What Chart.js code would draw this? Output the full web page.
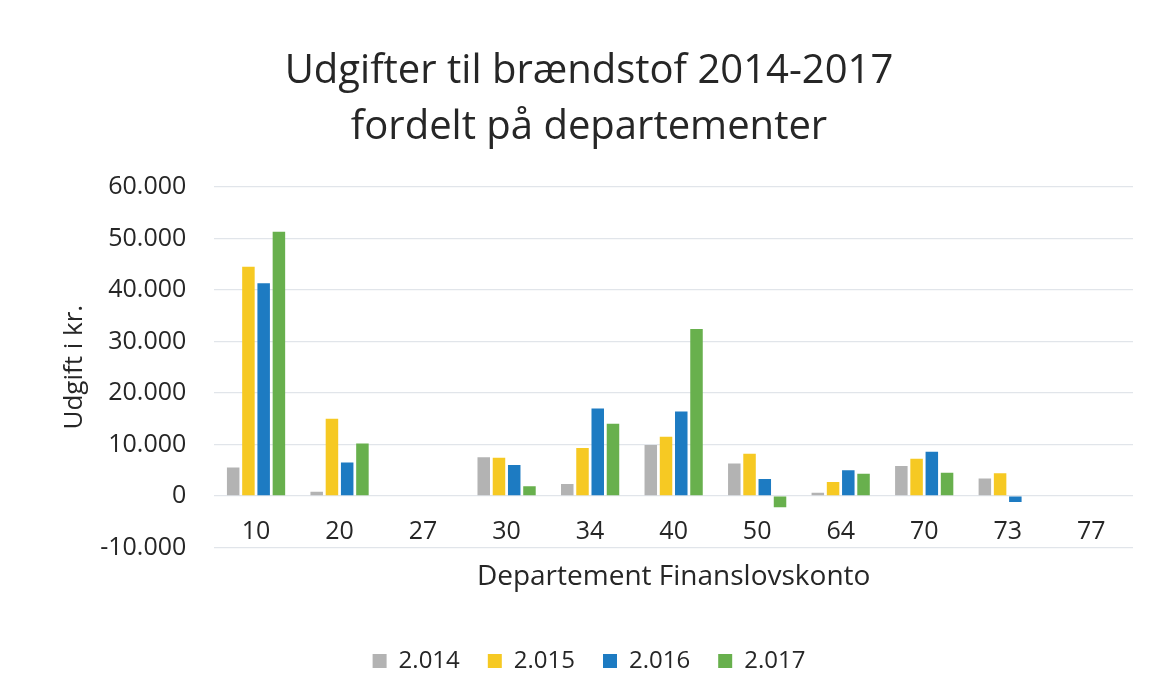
<!DOCTYPE html>
<html>
<head>
<meta charset="utf-8">
<script src="https://cdn.jsdelivr.net/npm/chart.js@4"></script>
<style>
  html, body { margin: 0; padding: 0; background: #fff; }
  #wrap { width: 1155px; height: 697px; }
</style>
</head>
<body>
<div id="wrap"><canvas id="fuelChart" width="1155" height="697"></canvas></div>
<script>
// Departement Finanslovskonto
const accounts = ['10', '20', '27', '30', '34', '40', '50', '64', '70', '73', '77'];
const seriesLabels = ['2.014', '2.015', '2.016', '2.017'];

// Udgift i kr. per year
const values2014 = [5500, 800, 0, 7500, 2300, 9900, 6300, 600, 5800, 3400, 0];
const values2015 = [44500, 15000, 0, 7400, 9300, 11500, 8200, 2700, 7200, 4400, 0];
const values2016 = [41300, 6500, 0, 6000, 17000, 16400, 3300, 5000, 8600, -1200, 0];
const values2017 = [51300, 10200, 0, 1900, 14000, 32400, -2200, 4300, 4500, 0, 0];

const yTickValues = [-10000, 0, 10000, 20000, 30000, 40000, 50000, 60000];
const yTickLabels = ['-10.000', '0', '10.000', '20.000', '30.000', '40.000', '50.000', '60.000'];

const colors = ['#b3b3b3', '#f6c923', '#1d7bc2', '#68b04d'];
const textColor = '#262626';
const fontFamily = '"Open Sans", "Noto Sans", sans-serif';

const allValues = [values2014, values2015, values2016, values2017];

const ctx = document.getElementById('fuelChart').getContext('2d');
new Chart(ctx, {
    type: 'bar',
    data: {
        labels: accounts,
        datasets: allValues.map(function (vals, i) {
            return {
                label: seriesLabels[i],
                data: vals,
                backgroundColor: colors[i],
                borderWidth: 0,
                categoryPercentage: 0.73,
                barPercentage: 0.82
            };
        })
    },
    options: {
        responsive: false,
        animation: false,
        layout: {
            padding: { left: 45, right: 22, top: 0, bottom: 14 }
        },
        scales: {
            x: {
                grid: { display: false, drawTicks: false },
                border: { display: false },
                ticks: {
                    color: textColor,
                    font: { family: fontFamily, size: 25 },
                    // labels sit between the 0 and -10.000 lines, like the original
                    mirror: true,
                    padding: 1,
                    maxRotation: 0,
                    autoSkip: false
                },
                title: {
                    display: true,
                    text: 'Departement Finanslovskonto',
                    color: textColor,
                    font: { family: fontFamily, size: 28 },
                    padding: { top: 11, bottom: 27 }
                }
            },
            y: {
                min: -10000,
                max: 60000,
                grid: { color: '#e1e5ea', lineWidth: 1.2, drawTicks: false },
                border: { display: false },
                afterBuildTicks: function (scale) {
                    scale.ticks = yTickValues.map(function (v) { return { value: v }; });
                },
                ticks: {
                    color: textColor,
                    font: { family: fontFamily, size: 25 },
                    padding: 28,
                    callback: function (value) {
                        const idx = yTickValues.indexOf(value);
                        return idx >= 0 ? yTickLabels[idx] : '';
                    }
                },
                title: {
                    display: true,
                    text: 'Udgift i kr.',
                    color: textColor,
                    font: { family: fontFamily, size: 26 },
                    padding: { top: 14, bottom: -18 }
                }
            }
        },
        plugins: {
            title: {
                display: true,
                text: ['Udgifter til brændstof 2014-2017', 'fordelt på departementer'],
                color: textColor,
                font: { family: fontFamily, size: 40, weight: 'normal', lineHeight: 1.4 },
                padding: { top: 44, bottom: 31 }
            },
            legend: {
                position: 'bottom',
                labels: {
                    color: textColor,
                    font: { family: fontFamily, size: 24 },
                    boxWidth: 14,
                    boxHeight: 14,
                    padding: 28
                }
            },
            tooltip: { enabled: false }
        }
    }
});
</script>
</body>
</html>
